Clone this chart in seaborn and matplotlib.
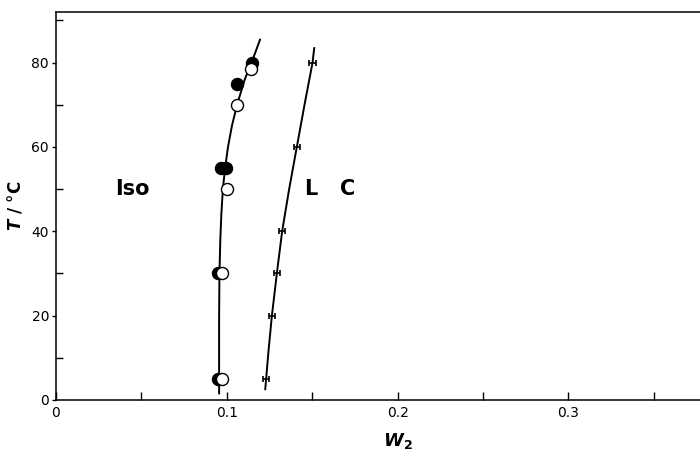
"""
Phase diagram: Iso / LC boundary, T vs W2.
"""
import matplotlib
matplotlib.use('Agg')
import matplotlib.pyplot as plt
from matplotlib.ticker import MultipleLocator
import pandas as pd
import seaborn as sns

# filled / open circles on the Iso boundary
filled_w = [0.0946, 0.0949, 0.0967, 0.0996, 0.1060, 0.1145]
filled_t = [5, 30, 55, 55, 75, 80]
open_w = [0.0974, 0.0974, 0.1002, 0.1060, 0.1140]
open_t = [5, 30, 50, 70, 78.5]

# LC points with horizontal error bars
lc_w = [0.1228, 0.1264, 0.1293, 0.1324, 0.1410, 0.1502]
lc_t = [5, 20, 30, 40, 60, 80]
lc_err = [0.0018, 0.0018, 0.0018, 0.0018, 0.0018, 0.0018]

# hand-drawn guide curves
iso_curve_w = [0.0955, 0.0955, 0.0957, 0.0962, 0.0968, 0.0977, 0.0990, 0.1007, 0.1030, 0.1060, 0.1105, 0.1145, 0.1195]
iso_curve_t = [1.5, 20, 30, 38, 44, 50, 55, 60, 65, 70, 76, 80, 85.5]
lc_curve_w = [0.1225, 0.1245, 0.1264, 0.1293, 0.1324, 0.1365, 0.1410, 0.1455, 0.1502, 0.1512]
lc_curve_t = [2.5, 12, 20, 30, 40, 50, 60, 70, 80, 83.5]

sns.set_style('ticks', {'axes.edgecolor': 'black', 'text.color': 'black',
                        'xtick.color': 'black', 'ytick.color': 'black',
                        'axes.labelcolor': 'black'})
plt.rcParams['font.family'] = ['DejaVu Sans']

fig = plt.figure(figsize=(7, 4.53), dpi=100)
ax = fig.add_axes([0.08, 0.117, 0.976, 0.8565])

iso_df = pd.DataFrame({'W': iso_curve_w, 'T': iso_curve_t})
lc_df = pd.DataFrame({'W': lc_curve_w, 'T': lc_curve_t})
sns.lineplot(data=iso_df, x='W', y='T', sort=False, estimator=None, color='black', lw=1.4, ax=ax)
sns.lineplot(data=lc_df, x='W', y='T', sort=False, estimator=None, color='black', lw=1.4, ax=ax)

sns.scatterplot(x=filled_w, y=filled_t, color='black', s=75, edgecolor='black',
                linewidth=1.0, zorder=3, ax=ax)
sns.scatterplot(x=open_w, y=open_t, color='white', s=75, edgecolor='black',
                linewidth=1.0, zorder=4, ax=ax)

ax.errorbar(lc_w, lc_t, xerr=lc_err, fmt='none', ecolor='black',
            elinewidth=1.2, capsize=2.5, capthick=1.2, zorder=3)

ax.text(0.0445, 50, 'Iso', fontsize=15, fontweight='bold', ha='center', va='center')
ax.text(0.1605, 50, 'L   C', fontsize=15, fontweight='bold', ha='center', va='center')

ax.set_xlim(0, 0.4)
ax.set_ylim(0, 92)
ax.xaxis.set_major_locator(MultipleLocator(0.1))
ax.xaxis.set_minor_locator(MultipleLocator(0.05))
ax.yaxis.set_major_locator(MultipleLocator(20))
ax.yaxis.set_minor_locator(MultipleLocator(10))
ax.set_xticks([0, 0.1, 0.2, 0.3])
ax.set_xticklabels(['0', '0.1', '0.2', '0.3'])
ax.tick_params(axis='x', which='both', direction='in', length=6, width=1.0, labelsize=10, pad=4)
ax.tick_params(axis='y', which='major', direction='out', length=3, width=1.0, labelsize=10, pad=2)
ax.tick_params(axis='y', which='minor', direction='in', length=5, width=1.0)

for side in ['left', 'bottom', 'top', 'right']:
    ax.spines[side].set_linewidth(1.1)

ax.set_xlabel(r'$\boldsymbol{W}_{\mathbf{2}}$', fontsize=13, labelpad=8)
ax.set_ylabel(r'$\boldsymbol{T}$ / °C', fontsize=12, fontweight='bold', labelpad=5)

fig.savefig('out.png', dpi=100)
